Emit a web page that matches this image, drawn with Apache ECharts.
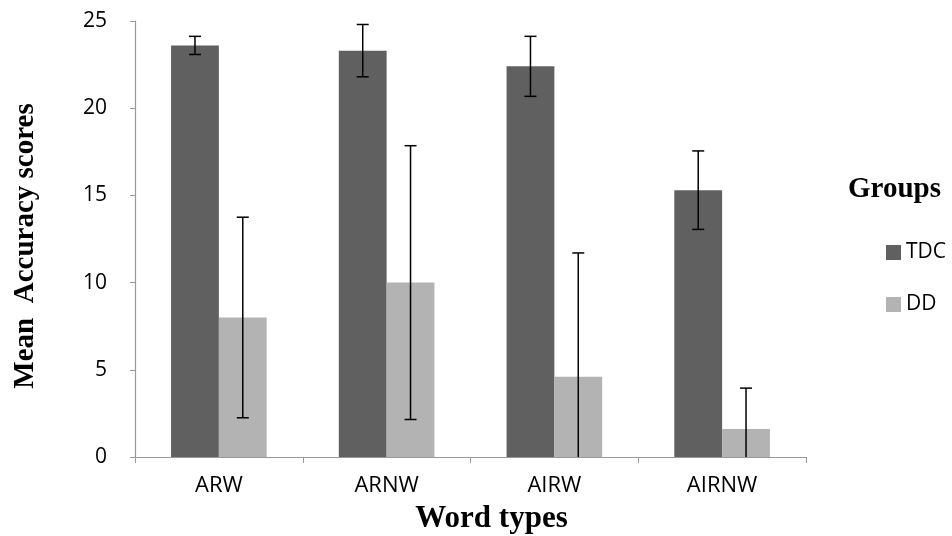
<!DOCTYPE html>
<html>
<head>
<meta charset="utf-8">
<script src="https://cdn.jsdelivr.net/npm/echarts@6/dist/echarts.min.js"></script>
<style>
  html, body { margin: 0; padding: 0; background: #fff; }
  #chartmain { width: 952px; height: 536px; }
</style>
</head>
<body>
<div id="chartmain"></div>
<script>
// word types on the x axis
var categories = ["ARW", "ARNW", "AIRW", "AIRNW"];
var groups = ["TDC", "DD"];
// mean accuracy scores
var tdcMeans = [23.6, 23.3, 22.4, 15.3];
var ddMeans = [8.0, 10.0, 4.6, 1.6];
// error bar half lengths
var tdcErr = [0.52, 1.5, 1.72, 2.25];
var ddErr = [5.75, 7.85, 7.1, 2.35];
var yTicks = [0, 5, 10, 15, 20, 25];

var barPct = 0.285; // bar width as share of the category

function errData(means, errs) {
  var out = [];
  for (var i = 0; i < means.length; i++) {
    out.push([i, Math.max(0, means[i] - errs[i]), means[i] + errs[i]]);
  }
  return out;
}

function errRender(side) {
  return function(params, api) {
    var band = api.size([1, 0])[0];
    var off = side * band * barPct / 2;
    var lo = api.coord([api.value(0), api.value(1)]);
    var hi = api.coord([api.value(0), api.value(2)]);
    var x = lo[0] + off;
    var cap = 6;
    var st = { stroke: "#000", lineWidth: 1.5 };
    var kids = [
      { type: "line", shape: { x1: x, y1: hi[1], x2: x, y2: lo[1] }, style: st },
      { type: "line", shape: { x1: x - cap, y1: hi[1], x2: x + cap, y2: hi[1] }, style: st }
    ];
    if (api.value(1) > 0) {
      kids.push({ type: "line", shape: { x1: x - cap, y1: lo[1], x2: x + cap, y2: lo[1] }, style: st });
    }
    return { type: "group", children: kids };
  };
}

var serifBold = { fontFamily: "Liberation Serif", fontWeight: "bold", fontSize: 29, color: "#000" };

var option = {
  animation: false,
  backgroundColor: "#fff",
  title: {
    text: "Groups",
    left: 843,
    top: 170,
    textStyle: serifBold
  },
  legend: {
    data: groups,
    orient: "vertical",
    left: 881,
    top: 237,
    itemWidth: 15,
    itemHeight: 15,
    itemGap: 31,
    icon: "rect",
    textStyle: { fontFamily: "Open Sans", fontSize: 21, color: "#000" }
  },
  grid: { left: 135, right: 146, top: 21, bottom: 79, outerBoundsMode: "none", containLabel: false },
  xAxis: {
    type: "category",
    data: categories,
    name: "Word types",
    nameLocation: "middle",
    nameGap: 46,
    nameTextStyle: Object.assign({ padding: [0, 0, 0, 42] }, serifBold, { fontSize: 31 }),
    axisLine: { lineStyle: { color: "#999", width: 1.2 } },
    axisTick: { show: true, length: 6, lineStyle: { color: "#999" } },
    axisLabel: { margin: 18, fontFamily: "Open Sans", fontSize: 22, color: "#000" }
  },
  yAxis: {
    type: "value",
    min: 0,
    max: 25,
    interval: 5,
    name: "Mean  Accuracy scores",
    nameLocation: "middle",
    nameGap: 95,
    nameTextStyle: Object.assign({ padding: [0, 14, 0, 0] }, serifBold),
    axisLine: { show: true, lineStyle: { color: "#999", width: 1.2 } },
    axisTick: { show: true, length: 5, lineStyle: { color: "#999" } },
    splitLine: { show: false },
    axisLabel: {
      margin: 28,
      fontFamily: "Open Sans",
      fontSize: 21,
      color: "#000",
      formatter: function(v) { return yTicks.indexOf(v) >= 0 ? String(v) : ""; }
    }
  },
  series: [
    {
      name: "TDC",
      type: "bar",
      data: tdcMeans,
      barWidth: (barPct * 100) + "%",
      barGap: "0%",
      itemStyle: { color: "#606060" }
    },
    {
      name: "DD",
      type: "bar",
      data: ddMeans,
      barWidth: (barPct * 100) + "%",
      barGap: "0%",
      itemStyle: { color: "#b3b3b3" }
    },
    {
      type: "custom",
      renderItem: errRender(-1),
      data: errData(tdcMeans, tdcErr),
      encode: { x: 0, y: [1, 2] },
      z: 10
    },
    {
      type: "custom",
      renderItem: errRender(1),
      data: errData(ddMeans, ddErr),
      encode: { x: 0, y: [1, 2] },
      z: 10
    }
  ]
};

var myChart = echarts.init(document.getElementById("chartmain"));
myChart.setOption(option);
</script>
</body>
</html>
